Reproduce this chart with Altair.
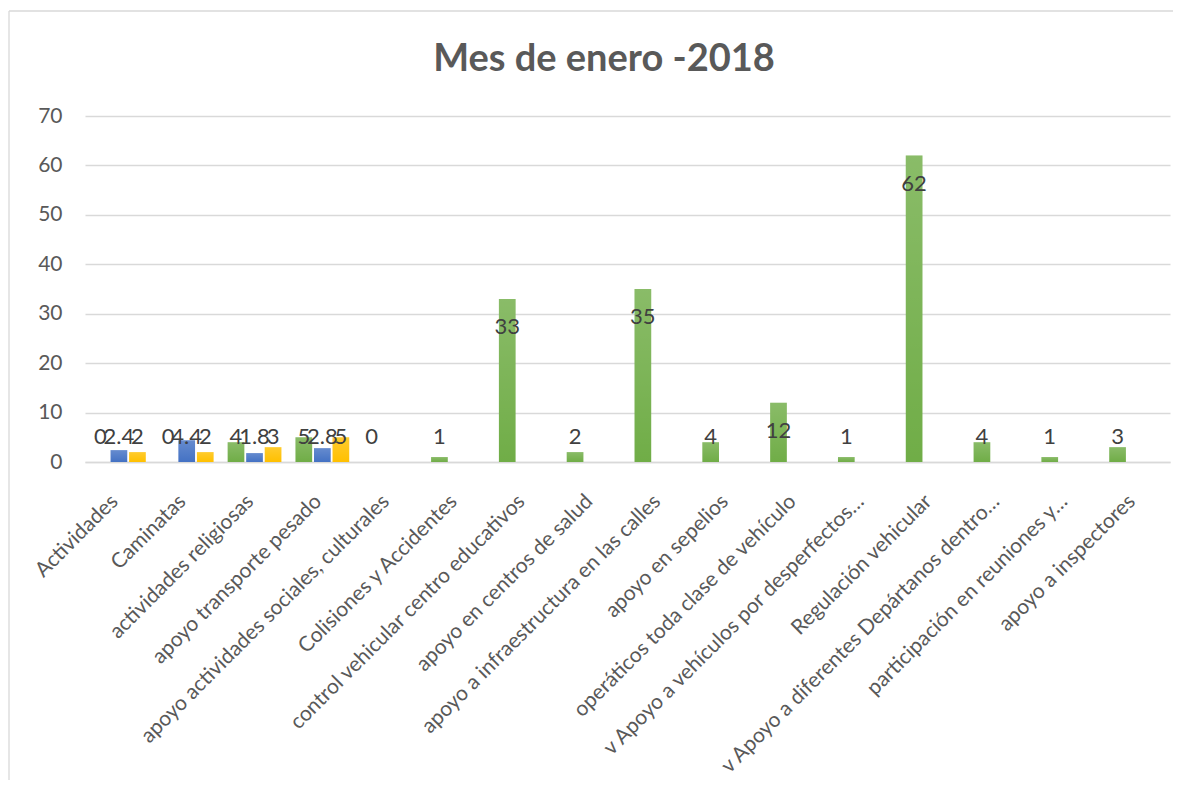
import altair as alt
import pandas as pd

title_text = ["Mes de enero -2018"]
categories = [
    "Actividades",
    "Caminatas",
    "actividades religiosas",
    "apoyo transporte pesado",
    "apoyo actividades sociales, culturales",
    "Colisiones y Accidentes",
    "control vehicular centro educativos",
    "apoyo en centros de salud",
    "apoyo  a infraestructura en las calles",
    "apoyo en sepelios",
    "operáticos toda clase de vehículo",
    "v Apoyo a vehículos por desperfectos…",
    "Regulación vehicular",
    "v  Apoyo a diferentes Depártanos dentro…",
    "participación en reuniones y…",
    "apoyo a inspectores",
]
serie1 = [0, 0, 4, 5, 0, 1, 33, 2, 35, 4, 12, 1, 62, 4, 1, 3]
serie2 = [2.4, 4.4, 1.8, 2.8]
serie3 = [2, 2, 3, 5]
series_names = ["Serie1", "Serie2", "Serie3"]
series_colors = ["#70AD47", "#4472C4", "#FFC000"]

rows = []
for i, c in enumerate(categories):
    rows.append({"cat": c, "serie": "Serie1", "value": serie1[i]})
for i, v in enumerate(serie2):
    rows.append({"cat": categories[i], "serie": "Serie2", "value": v})
for i, v in enumerate(serie3):
    rows.append({"cat": categories[i], "serie": "Serie3", "value": v})
df = pd.DataFrame(rows)

FONT = "Lato"
GRAY = "#595959"

x_enc = alt.X(
    "cat:N",
    sort=categories,
    scale=alt.Scale(paddingInner=0.18, paddingOuter=0.09),
    axis=alt.Axis(
        title=None,
        labelAngle=-45,
        labelAlign="right",
        labelBaseline="middle",
        labelPadding=36,
        labelOffset=-4,
        labelLimit=0,
        labelFont=FONT,
        labelFontSize=21,
        labelColor=GRAY,
        ticks=False,
        domain=True,
        domainColor="#D9D9D9",
        domainWidth=1.3,
        grid=False,
    ),
)
xoff_enc = alt.XOffset(
    "serie:N",
    sort=series_names,
    scale=alt.Scale(paddingInner=0.1, paddingOuter=0.05),
)
y_enc = alt.Y(
    "value:Q",
    scale=alt.Scale(domain=[0, 70], nice=False),
    axis=alt.Axis(
        title=None,
        values=[0, 10, 20, 30, 40, 50, 60, 70],
        labelFont=FONT,
        labelFontSize=21,
        labelColor=GRAY,
        labelPadding=23,
        ticks=False,
        domain=False,
        grid=True,
        gridColor="#D9D9D9",
        gridWidth=1.3,
    ),
)

base = alt.Chart(df)

bars = base.mark_bar().encode(
    x=x_enc,
    xOffset=xoff_enc,
    y=y_enc,
    fill=alt.Fill("serie:N", scale=alt.Scale(domain=series_names, range=series_colors), legend=None),
)

shine = base.mark_bar(
    fill=alt.Gradient(
        gradient="linear",
        x1=0, x2=0, y1=0, y2=1,
        stops=[
            alt.GradientStop(color="rgba(255,255,255,0.18)", offset=0),
            alt.GradientStop(color="rgba(255,255,255,0.0)", offset=1),
        ],
    )
).encode(x=x_enc, xOffset=xoff_enc, y=y_enc)

labels = base.transform_calculate(
    label_y="max(datum.value - 5.66, 5.06)"
).mark_text(
    font=FONT, fontSize=22, color="#404040", baseline="middle", align="center"
).encode(
    x=x_enc,
    xOffset=xoff_enc,
    y=alt.Y("label_y:Q"),
    text=alt.Text("value:Q"),
)

frame_df = pd.DataFrame({"k": [0]})
left_border = alt.Chart(frame_df).mark_rule(color="#D9D9D9", strokeWidth=1.3).encode(
    x=alt.value(-76), y=alt.value(-105), y2=alt.value(700)
)
top_border = alt.Chart(frame_df).mark_rule(color="#D9D9D9", strokeWidth=1.3).encode(
    x=alt.value(-76), x2=alt.value(1200), y=alt.value(-105)
)

title_df = pd.DataFrame({"t": title_text})
title = alt.Chart(title_df).mark_text(
    font=FONT, fontSize=38, fontWeight="bold", color=GRAY,
    align="center", baseline="alphabetic",
).encode(text="t:N", x=alt.value(519), y=alt.value(-45))

chart = alt.layer(bars, shine, labels, left_border, top_border, title).properties(
    width=1085,
    height=346,
    autosize=alt.AutoSizeParams(type="none"),
    padding={"left": 77, "top": 108, "right": 3, "bottom": 318},
    background="white",
).configure_view(stroke=None)

chart.save("out.html", embed_options={"renderer": "svg", "actions": False})
